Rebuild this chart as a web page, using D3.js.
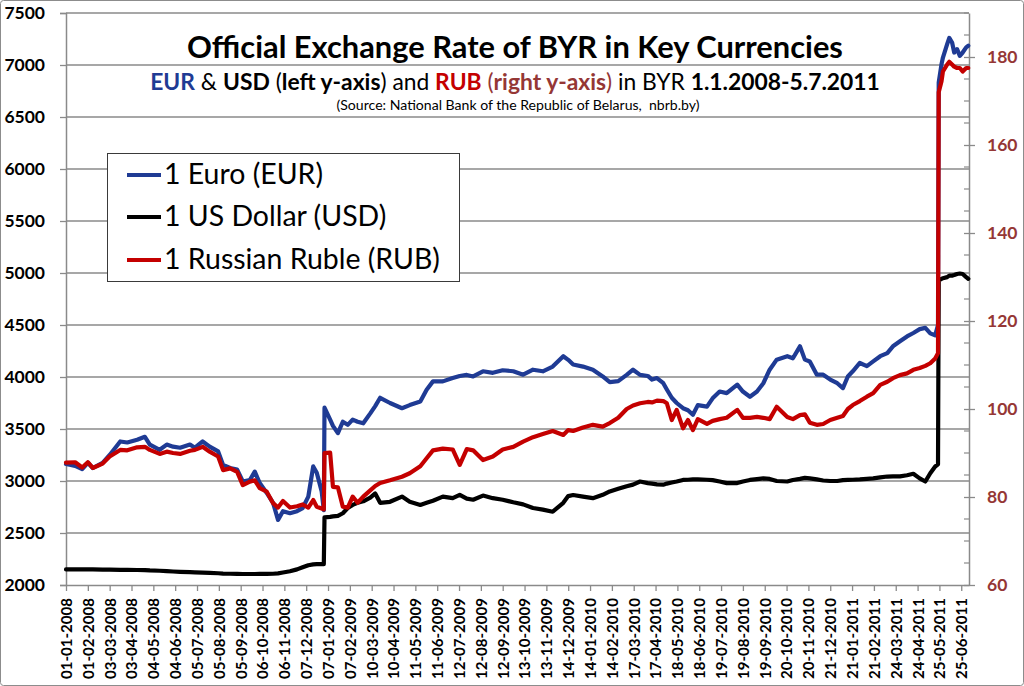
<!DOCTYPE html>
<html><head><meta charset="utf-8">
<script src="https://cdn.jsdelivr.net/npm/d3@7"></script>
<style>html,body{margin:0;padding:0;background:#fff;}svg{display:block;}</style>
</head><body>
<script>
const dates = ["2008-01-01","2008-01-14","2008-01-24","2008-02-01","2008-02-08","2008-02-22","2008-03-03","2008-03-18","2008-03-28","2008-04-11",
"2008-04-22","2008-04-29","2008-05-13","2008-05-23","2008-06-01","2008-06-11","2008-06-25","2008-07-02","2008-07-13","2008-07-23",
"2008-08-04","2008-08-11","2008-08-21","2008-08-31","2008-09-08","2008-09-18","2008-09-25","2008-10-02","2008-10-12","2008-10-21",
"2008-10-28","2008-11-04","2008-11-14","2008-11-24","2008-12-02","2008-12-10","2008-12-17","2008-12-22","2008-12-29","2009-01-01",
"2009-01-02","2009-01-10","2009-01-14","2009-01-21","2009-01-28","2009-02-04","2009-02-11","2009-02-18","2009-02-26","2009-03-08",
"2009-03-15","2009-03-22","2009-04-05","2009-04-22","2009-05-03","2009-05-18","2009-05-27","2009-06-05","2009-06-19","2009-07-03",
"2009-07-13","2009-07-23","2009-08-01","2009-08-15","2009-08-29","2009-09-12","2009-09-27","2009-10-11","2009-10-25","2009-11-08",
"2009-11-22","2009-12-07","2009-12-14","2009-12-21","2010-01-04","2010-01-18","2010-02-01","2010-02-11","2010-02-23","2010-03-07",
"2010-03-16","2010-03-26","2010-04-06","2010-04-12","2010-04-19","2010-04-28","2010-05-03","2010-05-10","2010-05-17","2010-05-26",
"2010-06-02","2010-06-09","2010-06-16","2010-06-29","2010-07-07","2010-07-17","2010-07-27","2010-08-11","2010-08-19","2010-08-29",
"2010-09-08","2010-09-17","2010-09-26","2010-10-06","2010-10-21","2010-10-29","2010-11-08","2010-11-15","2010-11-22","2010-12-02",
"2010-12-11","2010-12-21","2010-12-31","2011-01-08","2011-01-15","2011-01-22","2011-02-01","2011-02-11","2011-02-20","2011-03-02",
"2011-03-12","2011-03-20","2011-03-30","2011-04-09","2011-04-18","2011-04-27","2011-05-05","2011-05-12","2011-05-19","2011-05-23",
"2011-05-24","2011-05-28","2011-05-30","2011-06-05","2011-06-08","2011-06-12","2011-06-15","2011-06-19","2011-06-23","2011-06-27",
"2011-07-02","2011-07-05"];

const eur = [3163,3146,3115,3175,3125,3175,3250,3380,3370,3396,
3425,3350,3300,3350,3330,3320,3350,3320,3380,3330,
3285,3155,3125,3110,2995,3010,3090,2980,2885,2790,
2626,2710,2690,2710,2740,2850,3140,3080,2900,2720,
3705,3590,3530,3460,3570,3540,3590,3570,3555,3650,
3720,3800,3750,3700,3730,3765,3878,3958,3958,3990,
4010,4020,4005,4055,4040,4065,4055,4022,4070,4055,
4100,4200,4165,4120,4100,4070,4005,3950,3960,4020,
4070,4020,4010,3975,3990,3940,3880,3800,3750,3700,
3680,3637,3730,3715,3795,3860,3845,3926,3860,3810,
3860,3940,4070,4167,4200,4180,4295,4167,4150,4022,
4022,3975,3940,3893,4005,4055,4135,4105,4150,4200,
4230,4295,4343,4390,4423,4460,4472,4420,4400,4500,
6830,7008,7072,7200,7260,7216,7120,7152,7088,7120,
7170,7185];

const usd = [2150,2150,2150,2150,2150,2148,2147,2145,2145,2144,
2143,2140,2137,2133,2130,2127,2124,2122,2119,2117,
2113,2110,2108,2107,2106,2106,2106,2107,2107,2108,
2112,2120,2132,2150,2170,2190,2198,2200,2200,2200,
2650,2655,2660,2665,2690,2740,2770,2790,2805,2840,
2880,2790,2800,2850,2800,2770,2790,2810,2850,2835,
2867,2830,2820,2860,2835,2820,2795,2775,2740,2725,
2705,2790,2855,2865,2850,2835,2867,2900,2925,2950,
2965,2995,2980,2975,2968,2965,2975,2985,2995,3010,
3012,3015,3015,3012,3008,2995,2980,2980,2995,3010,
3018,3025,3020,3000,2995,3010,3020,3030,3025,3015,
3005,3000,3000,3008,3010,3012,3015,3020,3025,3035,
3043,3045,3045,3055,3069,3025,2995,3075,3140,3160,
4930,4944,4950,4960,4975,4975,4980,4990,4995,4990,
4960,4944];

const rub = [87.8,87.9,86.7,87.9,86.6,87.6,89.2,90.7,90.6,91.3,
91.4,90.7,89.8,90.3,90.0,89.8,90.5,90.7,91.4,90.3,
89.2,86.1,86.5,85.7,82.7,83.5,83.8,82.0,81.2,78.6,
77.6,79.1,77.6,77.9,78.3,77.6,79.3,77.8,77.4,77.2,
90.0,90.1,82.3,82.2,77.8,77.6,80.1,78.7,80.1,81.5,
82.5,83.2,83.8,84.6,85.4,87.0,88.8,90.6,91.0,90.8,
87.3,90.9,90.6,88.4,89.2,90.8,91.4,92.6,93.6,94.3,
95.0,94.1,95.2,95.0,95.8,96.4,96.0,96.8,98.0,100.0,
100.8,101.3,101.6,101.5,101.9,101.8,101.3,97.5,99.8,95.6,
97.5,95.2,97.7,96.6,97.3,97.7,98.0,99.8,98.0,98.0,
98.2,98.0,97.7,100.5,98.2,97.7,98.6,98.8,96.9,96.4,
96.6,97.5,98.0,98.4,100.0,100.9,101.8,102.8,103.6,105.5,
106.2,107.0,107.7,108.1,108.9,109.3,109.8,110.4,111.5,112.7,
172.0,174.5,176.7,178.3,178.9,178.3,177.8,177.5,177.5,176.7,
177.5,177.5];

const xTickLabels = ["01-01-2008","01-02-2008","03-03-2008","03-04-2008","04-05-2008","04-06-2008","05-07-2008","05-08-2008",
"05-09-2008","06-10-2008","06-11-2008","07-12-2008","07-01-2009","07-02-2009","10-03-2009","10-04-2009","11-05-2009",
"11-06-2009","12-07-2009","12-08-2009","12-09-2009","13-10-2009","13-11-2009","14-12-2009","14-01-2010","14-02-2010",
"17-03-2010","17-04-2010","18-05-2010","18-06-2010","19-07-2010","19-08-2010","19-09-2010","20-10-2010","20-11-2010",
"21-12-2010","21-01-2011","21-02-2011","24-03-2011","24-04-2011","25-05-2011","25-06-2011"];
const leftTicks = [2000,2500,3000,3500,4000,4500,5000,5500,6000,6500,7000,7500];
const rightTicks = [60,80,100,120,140,160,180];
const rightMinorTicks = [65,70,75,85,90,95,105,110,115,125,130,135,145,150,155,165,170,175,185,190];
const seriesNames = ["1 Euro (EUR)","1 US Dollar (USD)","1 Russian Ruble (RUB)"];

const W = 1024, H = 686;
const L = 66, R = 969, T = 13, B = 585;
const FONT = "Lato, 'Open Sans', sans-serif";
const C_EUR = "#1f3b94", C_USD = "#000000", C_RUB = "#c40000", C_DRED = "#953735", GRID = "#8a8a8a";

const parseD = d3.timeParse("%Y-%m-%d");
const parseT = d3.timeParse("%d-%m-%Y");
const fmtT = d3.timeFormat("%d-%m-%Y");

const svg = d3.select("body").append("svg").attr("width", W).attr("height", H)
  .style("font-family", FONT);

svg.append("rect").attr("x",0.5).attr("y",0.5).attr("width",W-1).attr("height",H-1)
  .attr("rx",3).attr("fill","#fff").attr("stroke","#8c8c8c");

const x = d3.scaleTime().domain([new Date(2008,0,1), new Date(2011,6,6)]).range([L, R]);
const yL = d3.scaleLinear().domain([2000, 7500]).range([B, T]);
const yR = d3.scaleLinear().domain([60, 190]).range([B, T]);

function fit(sel, target) {
  const w = sel.node().getComputedTextLength();
  const fs = parseFloat(sel.attr("font-size"));
  sel.attr("font-size", (fs * target / w).toFixed(2));
}

// gridlines
svg.append("g").selectAll("line").data(leftTicks.slice(1)).join("line")
  .attr("x1", L).attr("x2", R).attr("y1", d => yL(d)).attr("y2", d => yL(d))
  .attr("stroke", GRID).attr("stroke-width", 1.3);

// left axis
const gL = svg.append("g").attr("transform", `translate(${L},0)`)
  .call(d3.axisLeft(yL).tickValues(leftTicks).tickSize(6).tickPadding(14).tickFormat(d3.format("d")));
gL.select(".domain").attr("stroke", GRID).attr("stroke-width", 1.5);
gL.selectAll(".tick line").attr("stroke", GRID).attr("stroke-width", 1.3);
gL.selectAll("text").attr("font-size", 17.5).attr("font-weight", "bold").attr("fill", "#000")
  .attr("font-family", FONT).attr("x", -21);

// right axis
const gR = svg.append("g").attr("transform", `translate(${R},0)`)
  .call(d3.axisRight(yR).tickValues(rightTicks).tickSizeInner(6).tickSizeOuter(0).tickPadding(12));
gR.select(".domain").attr("stroke", GRID).attr("stroke-width", 1.5);
gR.selectAll(".tick line").attr("stroke", GRID).attr("stroke-width", 1.3).attr("x1", -5);
gR.selectAll("text").attr("font-size", 17.5).attr("font-weight", "bold").attr("fill", C_DRED)
  .attr("font-family", FONT).attr("x", 18);
svg.append("g").selectAll("line").data(rightMinorTicks).join("line")
  .attr("x1", R - 5).attr("x2", R).attr("y1", d => yR(d)).attr("y2", d => yR(d))
  .attr("stroke", GRID).attr("stroke-width", 1.2);

// bottom axis
const tickDates = xTickLabels.map(parseT);
const gB = svg.append("g").attr("transform", `translate(0,${B})`)
  .call(d3.axisBottom(x).tickValues(tickDates).tickFormat(fmtT).tickSize(6).tickSizeOuter(0));
gB.select(".domain").attr("stroke", GRID).attr("stroke-width", 1.5);
gB.selectAll(".tick line").attr("stroke", GRID).attr("stroke-width", 1.3);
const xt = gB.selectAll("text").attr("font-size", 15).attr("font-weight", "bold").attr("fill", "#000")
  .attr("font-family", FONT)
  .attr("transform", "rotate(-90)").attr("text-anchor", "end")
  .attr("x", -13).attr("y", 0).attr("dy", "0.36em");
{
  const n = xt.nodes()[0];
  const w = n.getComputedTextLength();
  xt.attr("font-size", (15 * 81 / w).toFixed(2));
}

// series
const pts = (vals) => dates.map((d, i) => [parseD(d), vals[i]]);
const lineL = d3.line().x(d => x(d[0])).y(d => yL(d[1]));
const lineR = d3.line().x(d => x(d[0])).y(d => yR(d[1]));
const gS = svg.append("g").attr("fill", "none").attr("stroke-width", 4.2)
  .attr("stroke-linejoin", "round").attr("stroke-linecap", "round");
gS.append("path").attr("d", lineL(pts(eur))).attr("stroke", C_EUR);
gS.append("path").attr("d", lineL(pts(usd))).attr("stroke", C_USD);
gS.append("path").attr("d", lineR(pts(rub))).attr("stroke", C_RUB);

// titles
const title = svg.append("text").attr("x", 515).attr("y", 58).attr("text-anchor", "middle")
  .attr("font-size", 26).attr("font-weight", "bold").attr("fill", "#000")
  .text("Official Exchange Rate of BYR in Key Currencies");
fit(title, 656);

const sub = svg.append("text").attr("x", 515).attr("y", 90).attr("text-anchor", "middle")
  .attr("font-size", 19).attr("fill", "#000");
const parts = [
  ["EUR", "bold", C_EUR], [" & ", "normal", "#000"], ["USD", "bold", "#000"], [" (", "normal", "#000"],
  ["left y-axis", "bold", "#000"], [") and ", "normal", "#000"], ["RUB", "bold", C_RUB],
  [" (", "normal", C_DRED], ["right y-axis", "bold", C_DRED], [")", "normal", C_DRED],
  [" in BYR ", "normal", "#000"], ["1.1.2008-5.7.2011", "bold", "#000"]
];
parts.forEach(p => sub.append("tspan").attr("font-weight", p[1]).attr("fill", p[2]).text(p[0]));
fit(sub, 730);

const src = svg.append("text").attr("x", 518).attr("y", 110).attr("text-anchor", "middle")
  .attr("font-size", 11).attr("fill", "#000").attr("xml:space", "preserve")
  .text("(Source: National Bank of the Republic of Belarus,  nbrb.by)");
fit(src, 363);

// legend
const lg = svg.append("g");
lg.append("rect").attr("x", 107.5).attr("y", 153.5).attr("width", 352).attr("height", 128)
  .attr("fill", "#fff").attr("stroke", "#3a3a3a").attr("stroke-width", 1);
const legColors = [C_EUR, C_USD, C_RUB];
const legY = [175, 217, 260];
const legItems = lg.selectAll("g.item").data(seriesNames).join("g").attr("class", "item");
legItems.append("line").attr("x1", 127).attr("x2", 161).attr("y1", (d, i) => legY[i]).attr("y2", (d, i) => legY[i])
  .attr("stroke", (d, i) => legColors[i]).attr("stroke-width", 3.8);
const legT = legItems.append("text").attr("x", 164).attr("y", (d, i) => legY[i] + 8.5)
  .attr("font-size", 24).attr("fill", "#000").text(d => d);
{
  const w = legT.nodes()[2].getComputedTextLength();
  legT.attr("font-size", (24 * 276 / w).toFixed(2));
}
</script>
</body></html>
